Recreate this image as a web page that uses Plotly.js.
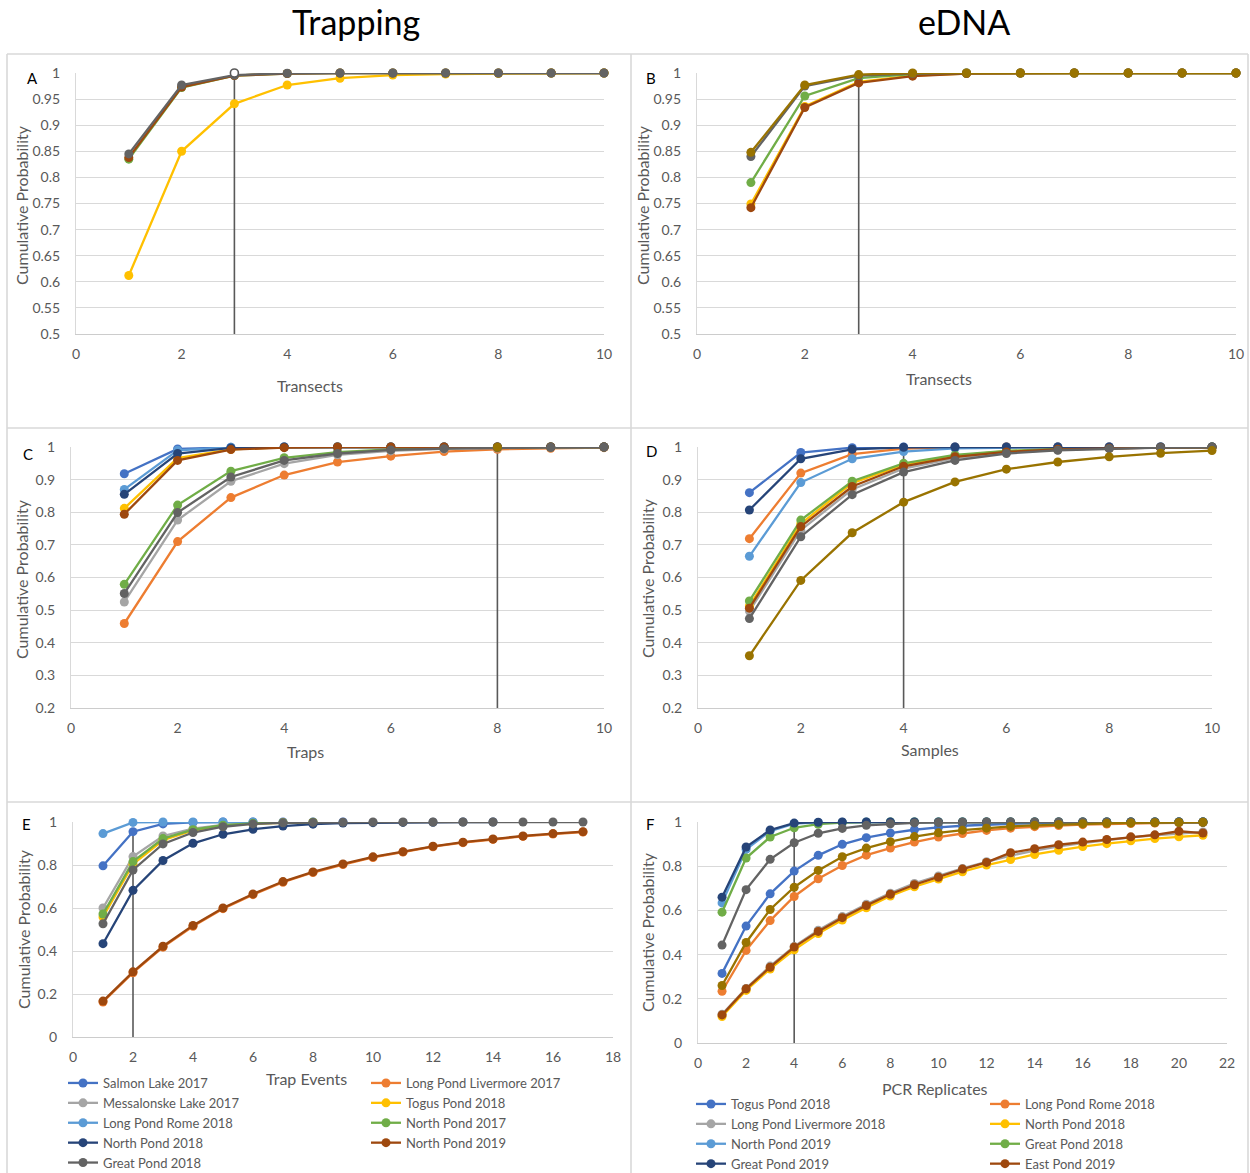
<!DOCTYPE html>
<html>
<head>
<meta charset="utf-8">
<script src="https://cdn.plot.ly/plotly-3.0.1.min.js"></script>
<style>
  html, body { margin: 0; padding: 0; background: #ffffff; overflow: hidden; }
  #chart { width: 1250px; height: 1173px; }
</style>
</head>
<body>
<div id="chart"></div>
<script>
// ---------- x values ----------
const transects = [1, 2, 3, 4, 5, 6, 7, 8, 9, 10];
const traps = [1, 2, 3, 4, 5, 6, 7, 8, 9, 10];
const samples = [1, 2, 3, 4, 5, 6, 7, 8, 9, 10];
const trapEvents = [1, 2, 3, 4, 5, 6, 7, 8, 9, 10, 11, 12, 13, 14, 15, 16, 17];
const pcrReplicates = [1, 2, 3, 4, 5, 6, 7, 8, 9, 10, 11, 12, 13, 14, 15, 16, 17, 18, 19, 20, 21];

// ---------- series names ----------
const trapNames = ['Salmon Lake 2017', 'Long Pond Livermore 2017', 'Messalonske Lake 2017', 'Togus Pond 2018',
  'Long Pond Rome 2018', 'North Pond 2017', 'North Pond 2018', 'North Pond 2019', 'Great Pond 2018'];
const ednaNames = ['Togus Pond 2018', 'Long Pond Rome 2018', 'Long Pond Livermore 2018', 'North Pond 2018',
  'North Pond 2019', 'Great Pond 2018', 'Great Pond 2019', 'East Pond 2019', 'Site 9', 'Site 10'];

// ---------- A: trapping, transects ----------
const A_togus2018 = [0.612, 0.850, 0.941, 0.977, 0.990, 0.996, 0.998, 0.999, 1, 1];
const A_northPond2017 = [0.835, 0.972, 0.995, 0.999, 1, 1, 1, 1, 1, 1];
const A_northPond2019 = [0.838, 0.973, 0.995, 0.999, 1, 1, 1, 1, 1, 1];
const A_greatPond2018 = [0.845, 0.977, 0.996, 0.9995, 1, 1, 1, 1, 1, 1];

// ---------- B: eDNA, transects ----------
const B_northPond2018 = [0.749, 0.936, 0.983, 0.995, 0.999, 1, 1, 1, 1, 1];
const B_greatPond2018 = [0.790, 0.956, 0.990, 0.998, 1, 1, 1, 1, 1, 1];
const B_eastPond2019 = [0.742, 0.934, 0.981, 0.994, 0.999, 1, 1, 1, 1, 1];
const B_site9 = [0.840, 0.975, 0.995, 0.999, 1, 1, 1, 1, 1, 1];
const B_site10 = [0.848, 0.977, 0.997, 1, 1, 1, 1, 1, 1, 1];

// ---------- C: trapping, traps ----------
const C_salmon2017 = [0.918, 0.994, 0.999, 1, 1, 1, 1, 1, 1, 1];
const C_livermore2017 = [0.459, 0.710, 0.845, 0.914, 0.954, 0.972, 0.986, 0.993, 0.996, 0.998];
const C_messalonske2017 = [0.525, 0.776, 0.895, 0.949, 0.976, 0.988, 0.994, 0.997, 0.999, 1];
const C_togus2018 = [0.812, 0.966, 0.993, 0.999, 1, 1, 1, 1, 1, 1];
const C_rome2018 = [0.870, 0.990, 0.999, 1, 1, 1, 1, 1, 1, 1];
const C_northPond2017 = [0.579, 0.822, 0.926, 0.967, 0.984, 0.993, 0.997, 0.999, 1, 1];
const C_northPond2018 = [0.855, 0.980, 0.997, 1, 1, 1, 1, 1, 1, 1];
const C_northPond2019 = [0.794, 0.959, 0.992, 0.998, 1, 1, 1, 1, 1, 1];
const C_greatPond2018 = [0.551, 0.799, 0.908, 0.959, 0.980, 0.991, 0.995, 0.998, 0.999, 1];

// ---------- D: eDNA, samples ----------
const D_togus2018 = [0.860, 0.983, 0.998, 1, 1, 1, 1, 1, 1, 1];
const D_rome2018 = [0.719, 0.920, 0.978, 0.995, 0.999, 1, 1, 1, 1, 1];
const D_livermore2018 = [0.497, 0.745, 0.870, 0.934, 0.966, 0.983, 0.991, 0.996, 0.998, 0.999];
const D_northPond2018 = [0.513, 0.765, 0.889, 0.946, 0.973, 0.987, 0.993, 0.997, 0.998, 0.999];
const D_northPond2019 = [0.665, 0.891, 0.964, 0.986, 0.996, 0.999, 1, 1, 1, 1];
const D_greatPond2018 = [0.528, 0.776, 0.895, 0.950, 0.976, 0.988, 0.994, 0.997, 0.999, 1];
const D_greatPond2019 = [0.807, 0.964, 0.993, 0.999, 1, 1, 1, 1, 1, 1];
const D_eastPond2019 = [0.506, 0.756, 0.879, 0.941, 0.970, 0.985, 0.993, 0.996, 0.998, 0.999];
const D_site9 = [0.474, 0.725, 0.854, 0.923, 0.959, 0.980, 0.990, 0.995, 0.998, 0.999];
const D_site10 = [0.360, 0.591, 0.737, 0.831, 0.893, 0.932, 0.954, 0.970, 0.981, 0.989];

// ---------- E: trapping, trap events ----------
const E_salmon2017 = [0.796, 0.955, 0.991, 0.998, 1, 1, 1, 1, 1];
const E_livermore2017 = [0.163, 0.299, 0.418, 0.515, 0.597, 0.662, 0.720, 0.765, 0.802, 0.835, 0.860, 0.885, 0.904, 0.919, 0.933, 0.944, 0.953];
const E_messalonske2017 = [0.600, 0.839, 0.935, 0.969, 0.986, 0.994, 0.997, 0.999];
const E_togus2018 = [0.558, 0.804, 0.915, 0.961, 0.982, 0.992, 0.996, 0.998];
const E_rome2018 = [0.946, 0.998, 1, 1, 1, 1];
const E_northPond2017 = [0.572, 0.816, 0.923, 0.964, 0.985, 0.994, 0.997, 0.999];
const E_northPond2018 = [0.434, 0.682, 0.821, 0.901, 0.943, 0.966, 0.981, 0.990, 0.995, 0.997, 0.998, 0.999, 1, 1];
const E_northPond2019 = [0.167, 0.303, 0.422, 0.519, 0.600, 0.665, 0.723, 0.768, 0.805, 0.838, 0.862, 0.887, 0.906, 0.921, 0.935, 0.946, 0.955];
const E_greatPond2018 = [0.527, 0.777, 0.898, 0.951, 0.978, 0.991, 0.996, 0.998, 0.999, 1, 1, 1, 1, 1, 1, 1, 1];

// ---------- F: eDNA, PCR replicates ----------
const F_togus2018 = [0.315, 0.529, 0.675, 0.778, 0.849, 0.899, 0.929, 0.950, 0.965, 0.976, 0.983, 0.988, 0.992, 0.994, 0.996, 0.997, 0.998, 0.999, 0.999, 1, 1];
const F_rome2018 = [0.234, 0.419, 0.554, 0.663, 0.743, 0.803, 0.850, 0.882, 0.909, 0.932, 0.948, 0.962, 0.972, 0.979, 0.984, 0.988, 0.991, 0.993, 0.995, 0.996, 0.997];
const F_livermore2018 = [0.130, 0.247, 0.348, 0.437, 0.510, 0.572, 0.628, 0.678, 0.722, 0.756, 0.790, 0.820, 0.848, 0.870, 0.890, 0.904, 0.918, 0.930, 0.940, 0.948, 0.955];
const F_northPond2018 = [0.120, 0.238, 0.335, 0.422, 0.495, 0.556, 0.612, 0.665, 0.707, 0.742, 0.775, 0.805, 0.830, 0.853, 0.872, 0.889, 0.902, 0.915, 0.925, 0.933, 0.940];
const F_northPond2019 = [0.634, 0.876, 0.959, 0.993, 0.998, 0.999, 1, 1, 1, 1, 1, 1, 1, 1, 1, 1, 1, 1, 1, 1, 1];
const F_greatPond2018 = [0.592, 0.837, 0.932, 0.974, 0.990, 0.997, 0.999, 1, 1, 1, 1, 1, 1, 1, 1, 1, 1, 1, 1, 1, 1];
const F_greatPond2019 = [0.660, 0.887, 0.964, 0.995, 0.999, 1, 1, 1, 1, 1, 1, 1, 1, 1, 1, 1, 1, 1, 1, 1, 1];
const F_eastPond2019 = [0.127, 0.245, 0.343, 0.434, 0.505, 0.567, 0.622, 0.673, 0.716, 0.750, 0.787, 0.817, 0.861, 0.879, 0.897, 0.909, 0.921, 0.933, 0.942, 0.958, 0.950];
const F_site9 = [0.443, 0.694, 0.831, 0.906, 0.949, 0.971, 0.985, 0.992, 0.996, 0.998, 0.999, 1, 1, 1, 1, 1, 1, 1, 1, 1, 1];
const F_site10 = [0.260, 0.455, 0.604, 0.705, 0.781, 0.843, 0.882, 0.911, 0.934, 0.951, 0.963, 0.972, 0.980, 0.985, 0.989, 0.992, 0.994, 0.996, 0.997, 0.998, 0.999];

// ---------- recommended-effort reference lines ----------
const refA_x = [3, 3], refA_y = [0.5, 1];
const refB_x = [3, 3], refB_y = [0.5, 0.997];
const refC_x = [8, 8], refC_y = [0.2, 0.999];
const refD_x = [4, 4], refD_y = [0.2, 1];
const refE_x = [2, 2], refE_y = [0, 0.955];
const refF_x = [4, 4], refF_y = [0, 1];

// ---------- axis ticks ----------
const ticksHalf = [0.5, 0.55, 0.6, 0.65, 0.7, 0.75, 0.8, 0.85, 0.9, 0.95, 1];
const ticksHalfText = ['0.5', '0.55', '0.6', '0.65', '0.7', '0.75', '0.8', '0.85', '0.9', '0.95', '1'];
const ticksTenth = [0.2, 0.3, 0.4, 0.5, 0.6, 0.7, 0.8, 0.9, 1];
const ticksTenthText = ['0.2', '0.3', '0.4', '0.5', '0.6', '0.7', '0.8', '0.9', '1'];
const ticksFifth = [0, 0.2, 0.4, 0.6, 0.8, 1];
const ticksFifthText = ['0', '0.2', '0.4', '0.6', '0.8', '1'];
const xTicks10 = [0, 2, 4, 6, 8, 10];
const xTicks18 = [0, 2, 4, 6, 8, 10, 12, 14, 16, 18];
const xTicks22 = [0, 2, 4, 6, 8, 10, 12, 14, 16, 18, 20, 22];

// ---------- styling ----------
const W = 1250, H = 1173;
const FONT = 'Lato, "Open Sans", sans-serif';
const TEXT = '#595959';
const GRID = '#d9d9d9';
const C_BLUE = '#4472C4', C_ORANGE = '#ED7D31', C_GRAY = '#A5A5A5', C_GOLD = '#FFC000',
      C_LBLUE = '#5B9BD5', C_GREEN = '#70AD47', C_DBLUE = '#264478', C_BROWN = '#9E480E',
      C_DGRAY = '#636363', C_OLIVE = '#997300';
const trapColors = [C_BLUE, C_ORANGE, C_GRAY, C_GOLD, C_LBLUE, C_GREEN, C_DBLUE, C_BROWN, C_DGRAY];
const ednaColors = [C_BLUE, C_ORANGE, C_GRAY, C_GOLD, C_LBLUE, C_GREEN, C_DBLUE, C_BROWN, C_DGRAY, C_OLIVE];

const px = v => v / W;
const py = v => 1 - v / H;

function line(xs, ys, name, color, ax, extra) {
  return Object.assign({
    type: 'scatter', mode: 'lines+markers', name: name,
    x: xs.slice(0, ys.length), y: ys,
    xaxis: 'x' + ax, yaxis: 'y' + ax,
    line: { color: color, width: 2.3 },
    marker: { color: color, size: 9 },
    cliponaxis: false, showlegend: false, hoverinfo: 'x+y+name'
  }, extra || {});
}

function refLine(xs, ys, ax) {
  return {
    type: 'scatter', mode: 'lines', x: xs, y: ys,
    xaxis: 'x' + ax, yaxis: 'y' + ax,
    line: { color: '#595959', width: 1.6 },
    cliponaxis: false, showlegend: false, hoverinfo: 'skip'
  };
}

const traces = [];

// A
traces.push(refLine(refA_x, refA_y, ''));
[[A_togus2018, 3], [A_northPond2017, 5], [A_northPond2019, 7], [A_greatPond2018, 8]].forEach(([ys, i]) =>
  traces.push(line(transects, ys, trapNames[i], trapColors[i], '')));
traces.push({ type: 'scatter', mode: 'markers', x: refA_x.slice(1), y: refA_y.slice(1), xaxis: 'x', yaxis: 'y',
  marker: { color: '#ffffff', size: 8, line: { color: '#595959', width: 1.6 } },
  cliponaxis: false, showlegend: false, hoverinfo: 'skip' });

// B
traces.push(refLine(refB_x, refB_y, '2'));
[[B_northPond2018, 3], [B_greatPond2018, 5], [B_eastPond2019, 7], [B_site9, 8], [B_site10, 9]].forEach(([ys, i]) =>
  traces.push(line(transects, ys, ednaNames[i], ednaColors[i], '2')));

// C
traces.push(refLine(refC_x, refC_y, '3'));
[C_salmon2017, C_livermore2017, C_messalonske2017, C_togus2018, C_rome2018,
 C_northPond2017, C_northPond2018, C_northPond2019, C_greatPond2018].forEach((ys, i) =>
  traces.push(line(traps, ys, trapNames[i], trapColors[i], '3')));
traces.push({ type: 'scatter', mode: 'markers', x: refC_x.slice(1), y: refC_y.slice(1), xaxis: 'x3', yaxis: 'y3',
  marker: { color: C_OLIVE, size: 9 }, cliponaxis: false, showlegend: false, hoverinfo: 'skip' });

// D
traces.push(refLine(refD_x, refD_y, '4'));
[D_togus2018, D_rome2018, D_livermore2018, D_northPond2018, D_northPond2019,
 D_greatPond2018, D_greatPond2019, D_eastPond2019, D_site9, D_site10].forEach((ys, i) =>
  traces.push(line(samples, ys, ednaNames[i], ednaColors[i], '4')));

// E (carries the trapping legend, two columns)
const trapLegendCol = ['legend', 'legend2', 'legend', 'legend2', 'legend', 'legend2', 'legend', 'legend2', 'legend'];
traces.push(refLine(refE_x, refE_y, '5'));
[E_salmon2017, E_livermore2017, E_messalonske2017, E_togus2018, E_rome2018,
 E_northPond2017, E_northPond2018, E_northPond2019, E_greatPond2018].forEach((ys, i) =>
  traces.push(line(trapEvents, ys, trapNames[i], trapColors[i], '5',
    { showlegend: true, legend: trapLegendCol[i] })));

// F (carries the eDNA legend, two columns)
const ednaLegendCol = ['legend3', 'legend4', 'legend3', 'legend4', 'legend3', 'legend4', 'legend3', 'legend4'];
traces.push(refLine(refF_x, refF_y, '6'));
[F_togus2018, F_rome2018, F_livermore2018, F_northPond2018, F_northPond2019,
 F_greatPond2018, F_greatPond2019, F_eastPond2019, F_site9, F_site10].forEach((ys, i) =>
  traces.push(line(pcrReplicates, ys, ednaNames[i], ednaColors[i], '6',
    i < 8 ? { showlegend: true, legend: ednaLegendCol[i] } : {})));

// ---------- axes ----------
const TICKFONT = { family: FONT, size: 14, color: TEXT };
function xAxis(l, r, anchor, range, ticks) {
  return {
    domain: [px(l), px(r)], anchor: anchor, range: range,
    tickvals: ticks, ticktext: ticks.map(String),
    showgrid: false, zeroline: false, showline: true, linecolor: '#cccccc', linewidth: 1.2,
    ticks: '', ticklabelstandoff: 7, automargin: false, fixedrange: true,
    tickfont: TICKFONT
  };
}
function yAxis(t, b, anchor, range, ticks, labels) {
  return {
    domain: [py(b), py(t)], anchor: anchor, range: range,
    tickvals: ticks, ticktext: labels,
    showgrid: true, gridcolor: GRID, gridwidth: 1.2,
    zeroline: false, showline: true, linecolor: GRID, linewidth: 1.2,
    ticks: '', ticklabelstandoff: 12, automargin: false, fixedrange: true,
    tickfont: TICKFONT
  };
}

function legendAt(x, y, size) {
  return {
    x: px(x), y: py(y), xanchor: 'left', yanchor: 'top', orientation: 'v',
    bgcolor: 'rgba(0,0,0,0)', borderwidth: 0, tracegroupgap: 0, itemwidth: 30,
    font: { family: FONT, size: size, color: TEXT }
  };
}
function label(text, x, y, size, color, angle) {
  return {
    text: text, xref: 'paper', yref: 'paper', x: px(x), y: py(y),
    xanchor: 'center', yanchor: 'middle', showarrow: false, textangle: angle || 0,
    font: { family: FONT, size: size, color: color }
  };
}
function border(x0, y0, x1, y1) {
  return {
    type: 'line', xref: 'paper', yref: 'paper',
    x0: px(x0), y0: py(y0), x1: px(x1), y1: py(y1),
    line: { color: GRID, width: 1.6 }, layer: 'below'
  };
}

const YTITLE = 'Cumulative Probability';
const layout = {
  width: W, height: H,
  margin: { l: 0, r: 0, t: 0, b: 0, autoexpand: false },
  paper_bgcolor: '#ffffff', plot_bgcolor: 'rgba(0,0,0,0)',
  font: { family: FONT, color: TEXT },
  hovermode: 'closest',
  xaxis:  xAxis(76, 604, 'y', [0, 10], xTicks10),
  yaxis:  yAxis(73, 334, 'x', [0.5, 1], ticksHalf, ticksHalfText),
  xaxis2: xAxis(697, 1236, 'y2', [0, 10], xTicks10),
  yaxis2: yAxis(73, 334, 'x2', [0.5, 1], ticksHalf, ticksHalfText),
  xaxis3: xAxis(71, 604, 'y3', [0, 10], xTicks10),
  yaxis3: yAxis(447, 708, 'x3', [0.2, 1], ticksTenth, ticksTenthText),
  xaxis4: xAxis(698, 1212, 'y4', [0, 10], xTicks10),
  yaxis4: yAxis(447, 708, 'x4', [0.2, 1], ticksTenth, ticksTenthText),
  xaxis5: xAxis(73, 613, 'y5', [0, 18], xTicks18),
  yaxis5: yAxis(822, 1037, 'x5', [0, 1], ticksFifth, ticksFifthText),
  xaxis6: xAxis(698, 1227, 'y6', [0, 22], xTicks22),
  yaxis6: yAxis(822, 1043, 'x6', [0, 1], ticksFifth, ticksFifthText),
  legend:  legendAt(63, 1068, 13),
  legend2: legendAt(366, 1068, 13),
  legend3: legendAt(691, 1089, 13),
  legend4: legendAt(985, 1089, 13),
  annotations: [
    label('Trapping', 356, 22, 34, '#000000'), label('eDNA', 964, 22, 34, '#000000'),
    label('A', 32, 78, 15, '#000000'), label('B', 651, 78, 15, '#000000'),
    label('C', 28, 454, 15, '#000000'), label('D', 652, 451, 15, '#000000'),
    label('E', 26, 824, 15, '#000000'), label('F', 650, 824, 15, '#000000'),
    // axis titles
    label('Transects', 310, 385, 16, TEXT), label('Transects', 939, 378, 16, TEXT),
    label('Traps', 305, 751, 16, TEXT), label('Samples', 930, 749, 16, TEXT),
    label('Trap Events', 306, 1078, 16, TEXT), label('PCR Replicates', 935, 1088, 16, TEXT),
    label(YTITLE, 22, 205, 16, TEXT, -90), label(YTITLE, 643, 205, 16, TEXT, -90),
    label(YTITLE, 22, 579, 16, TEXT, -90), label(YTITLE, 647, 578, 16, TEXT, -90),
    label(YTITLE, 23, 929, 16, TEXT, -90), label(YTITLE, 647, 932, 16, TEXT, -90)
  ],
  shapes: [
    border(7, 54, 1248, 54), border(7, 54, 7, 1173), border(1248, 54, 1248, 1173),
    border(631, 54, 631, 1173), border(7, 428, 1248, 428), border(7, 802, 1248, 802)
  ]
};

Plotly.newPlot('chart', traces, layout, { displayModeBar: false });
</script>
</body>
</html>
